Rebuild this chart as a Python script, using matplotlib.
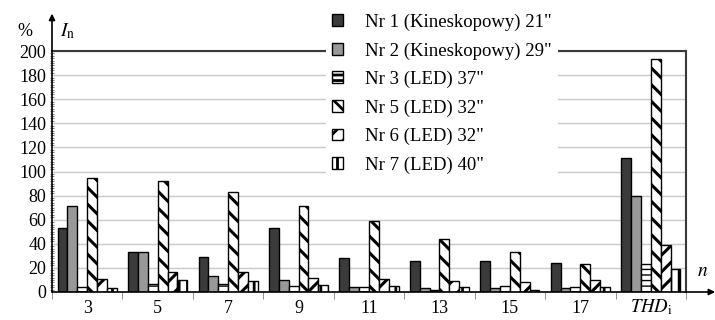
import matplotlib
matplotlib.use("Agg")
import matplotlib.pyplot as plt
import numpy as np

plt.rcParams['font.family'] = ['Liberation Serif', 'DejaVu Serif']
plt.rcParams['hatch.linewidth'] = 2.0

categories = ["3", "5", "7", "9", "11", "13", "15", "17", "THD"]
series_names = ['Nr 1 (Kineskopowy) 21"', 'Nr 2 (Kineskopowy) 29"', 'Nr 3 (LED) 37"',
                'Nr 5 (LED) 32"', 'Nr 6 (LED) 32"', 'Nr 7 (LED) 40"']
nr1 = [53, 33, 29, 53, 28, 26, 26, 24, 111]
nr2 = [71, 33, 13, 10, 4, 3, 3, 3, 80]
nr3 = [4, 7, 7, 5, 4, 2, 5, 4, 23]
nr5 = [95, 92, 83, 71, 59, 44, 33, 23, 193]
nr6 = [11, 17, 17, 12, 11, 9, 8, 10, 39]
nr7 = [3, 10, 9, 6, 5, 4, 2, 4, 19]
values = [nr1, nr2, nr3, nr5, nr6, nr7]

styles = [
    dict(facecolor='#3b3b3b', hatch=None, hlw=1.0),
    dict(facecolor='#999999', hatch=None, hlw=1.0),
    dict(facecolor='white', hatch='---', hlw=1.0),
    dict(facecolor='white', hatch='\\\\', hlw=2.2),
    dict(facecolor='white', hatch='//', hlw=2.2),
    dict(facecolor='white', hatch='||', hlw=2.0),
]

fig = plt.figure(figsize=(7.15, 3.2), dpi=100)
ax = fig.add_axes([52/715, 28/320, 634/715, 241/320])

x = np.arange(len(categories))
w = 0.14
handles = []
for i, (vals, st) in enumerate(zip(values, styles)):
    bars = ax.bar(x + (i - 2.5) * w, vals, width=w, facecolor=st['facecolor'],
                  edgecolor='black', linewidth=1.0, hatch=st['hatch'],
                  label=series_names[i], zorder=3)
    for p in bars.patches:
        try:
            p.set_hatch_linewidth(st['hlw'])
        except Exception:
            pass
    handles.append(bars)

ax.set_xlim(-0.5, len(categories) - 0.5)
ax.set_ylim(0, 200)
ax.set_yticks(np.arange(0, 201, 20))
ax.set_yticks(np.arange(0, 201, 2), minor=True)
ax.yaxis.grid(True, color='#c8c8c8', linewidth=1.0, zorder=0)
ax.set_axisbelow(True)

ax.set_xticks(x)
ax.set_xticklabels(categories[:-1] + [''])
ax.set_xticks(np.arange(-0.5, len(categories), 1.0), minor=True)
ax.tick_params(axis='x', which='major', length=0, labelsize=13, pad=6)
ax.tick_params(axis='x', which='minor', length=5, direction='out', color='#808080')
ax.tick_params(axis='y', which='major', length=0, labelsize=13, pad=4)
ax.tick_params(axis='y', which='minor', length=3, direction='inout', color='#808080', width=0.8)

for s in ['top', 'right']:
    ax.spines[s].set_color('#3a3a3a')
    ax.spines[s].set_linewidth(1.5)
ax.spines['left'].set_visible(False)
ax.spines['bottom'].set_visible(False)

# axis arrows
ax.annotate('', xy=(0, 1.155), xytext=(0, 0), xycoords='axes fraction',
            arrowprops=dict(arrowstyle='-|>', color='black', lw=1.2,
                            mutation_scale=9, shrinkA=0, shrinkB=0), annotation_clip=False)
ax.annotate('', xy=(1.046, 0), xytext=(0, 0), xycoords='axes fraction',
            arrowprops=dict(arrowstyle='-|>', color='black', lw=1.2,
                            mutation_scale=9, shrinkA=0, shrinkB=0), annotation_clip=False)

# labels
fig.text(25/715, 1 - 31/320, '%', fontsize=13, ha='center', va='center')
fig.text(60/715, 1 - 31/320, r'$I_{\mathrm{n}}$', fontsize=14, ha='left', va='center',
         math_fontfamily='stix')
fig.text(703/715, 1 - 272/320, r'$n$', fontsize=14, ha='center', va='center',
         math_fontfamily='stix')
fig.text(651/715, 1 - 307/320, r'$THD_{\mathrm{i}}$', fontsize=13.5, ha='center', va='center',
         math_fontfamily='stix')

leg = ax.legend(handles=handles, loc='upper left',
                bbox_to_anchor=((326 - 52) / 634, (292 - 8) / 241),
                frameon=True, facecolor='white', edgecolor='none', framealpha=1,
                fancybox=False, fontsize=13.5, handlelength=0.6, handleheight=0.6,
                handletextpad=1.2, labelspacing=0.6, borderpad=0.3, borderaxespad=0)
leg.set_zorder(10)

fig.savefig('out.png', dpi=100)
